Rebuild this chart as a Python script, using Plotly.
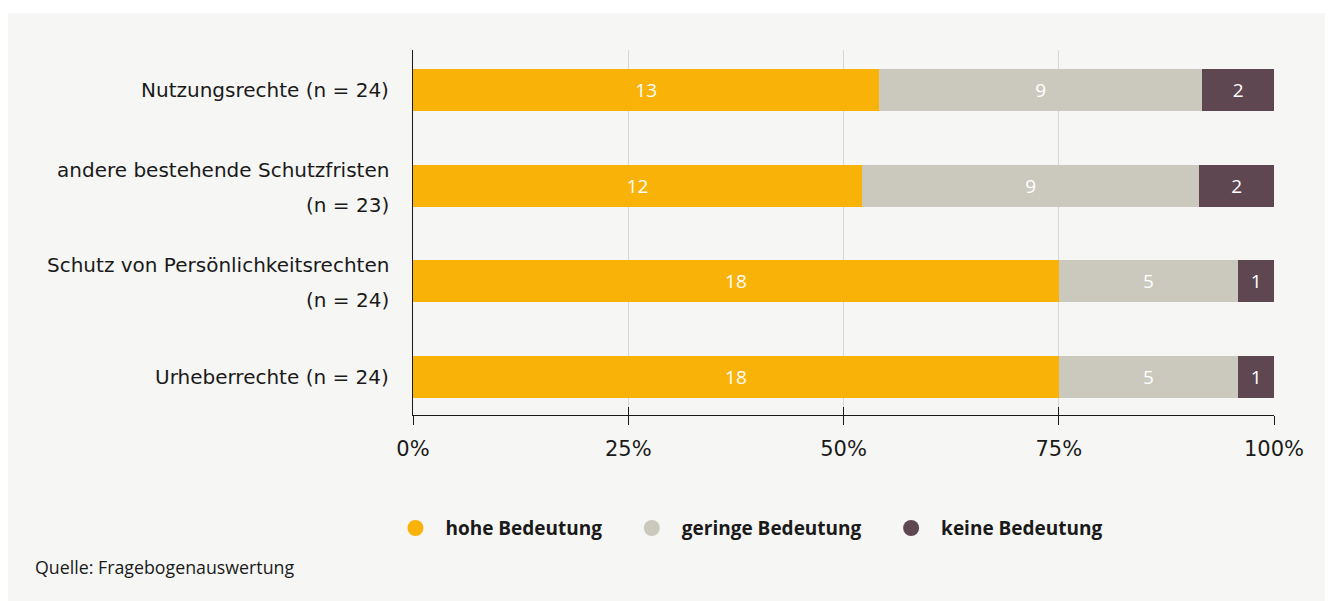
import plotly.graph_objects as go

categories = ["Urheberrechte", "Schutz von Persönlichkeitsrechten", "andere bestehende Schutzfristen", "Nutzungsrechte"]
label_lines = [
    ["Urheberrechte (n = 24)"],
    ["Schutz von Persönlichkeitsrechten", "(n = 24)"],
    ["andere bestehende Schutzfristen", "(n = 23)"],
    ["Nutzungsrechte (n = 24)"],
]
series_names = ["hohe Bedeutung", "geringe Bedeutung", "keine Bedeutung"]
hohe = [18, 18, 12, 13]
geringe = [5, 5, 9, 9]
keine = [1, 1, 2, 2]
colors = ["#f9b208", "#cbc9bd", "#5e4751"]
x_tickvals = [0, 25, 50, 75, 100]
x_ticktext = ["0%", "25%", "50%", "75%", "100%"]

FONT = "Open Sans"
WIDE = "DejaVu Sans"
totals = [a + b + c for a, b, c in zip(hohe, geringe, keine)]

fig = go.Figure()
for name, vals, col in zip(series_names, [hohe, geringe, keine], colors):
    pct = [v / t * 100 for v, t in zip(vals, totals)]
    fig.add_trace(go.Bar(
        y=categories, x=pct, orientation="h", name=name,
        marker=dict(color=col, line=dict(width=0)),
        text=[str(v) for v in vals], textposition="inside", insidetextanchor="middle",
        textfont=dict(color="white", size=19, family=FONT),
        showlegend=False, hoverinfo="skip",
    ))
    fig.add_trace(go.Scatter(
        x=[None], y=[None], mode="markers", name=name + "\u00a0\u00a0\u00a0",
        marker=dict(symbol="circle", size=21, color=col),
    ))

# y labels as annotations for wide line spacing
for cat, lines in zip(categories, label_lines):
    n = len(lines)
    for i, line in enumerate(lines):
        shift = 0 if n == 1 else (16 if i == 0 else -19)
        fig.add_annotation(
            x=0, xref="paper", y=cat, yref="y", text=line, showarrow=False,
            xanchor="right", yanchor="middle", xshift=-22, yshift=shift,
            font=dict(family=WIDE, size=20, color="#1a1a1a"),
        )

fig.add_annotation(
    x=-0.441, xref="paper", y=-0.417, yref="paper", text="Quelle: Fragebogenauswertung",
    showarrow=False, xanchor="left", yanchor="middle",
    font=dict(family=FONT, size=17.8, color="#1a1a1a"),
)

# grey background panel
fig.add_shape(type="rect", xref="paper", yref="paper", x0=-0.475, x1=1.3, y0=-0.7, y1=1.101,
              fillcolor="#f6f6f4", line=dict(width=0), layer="below")

fig.update_layout(
    width=1333, height=601,
    margin=dict(l=405, r=67, t=42, b=194),
    paper_bgcolor="white", plot_bgcolor="rgba(0,0,0,0)",
    barmode="stack", bargap=0.56,
    font=dict(family=FONT, size=18, color="#1a1a1a"),
    legend=dict(orientation="h", x=0.396, xanchor="center", y=-0.31, yanchor="middle",
                font=dict(family=FONT, size=19, color="#1a1a1a", weight="bold"),
                itemwidth=50, bgcolor="rgba(0,0,0,0)", traceorder="normal"),
    xaxis=dict(range=[0, 100], tickvals=x_tickvals, ticktext=x_ticktext,
               showgrid=True, gridcolor="#d6d6d6", gridwidth=1,
               showline=True, linecolor="#1a1a1a", linewidth=1,
               ticks="outside", ticklen=9, tickcolor="#1a1a1a", tickwidth=1,
               ticklabelstandoff=6,
               tickfont=dict(family=WIDE, size=21, color="#1a1a1a"),
               zeroline=False, fixedrange=True),
    xaxis2=dict(range=[0, 100], tickvals=x_tickvals, overlaying="x", side="bottom",
                anchor="y", showgrid=False, showline=False, showticklabels=False,
                ticks="inside", ticklen=8, tickcolor="#1a1a1a", tickwidth=1, zeroline=False),
    yaxis=dict(range=[-0.4, 3.42], showgrid=False, showticklabels=False,
               showline=True, linecolor="#1a1a1a", linewidth=1, ticks="", zeroline=False),
)
fig.add_trace(go.Scatter(x=[None], y=[None], xaxis="x2", yaxis="y", showlegend=False, hoverinfo="skip"))

fig.write_html("out.html")
